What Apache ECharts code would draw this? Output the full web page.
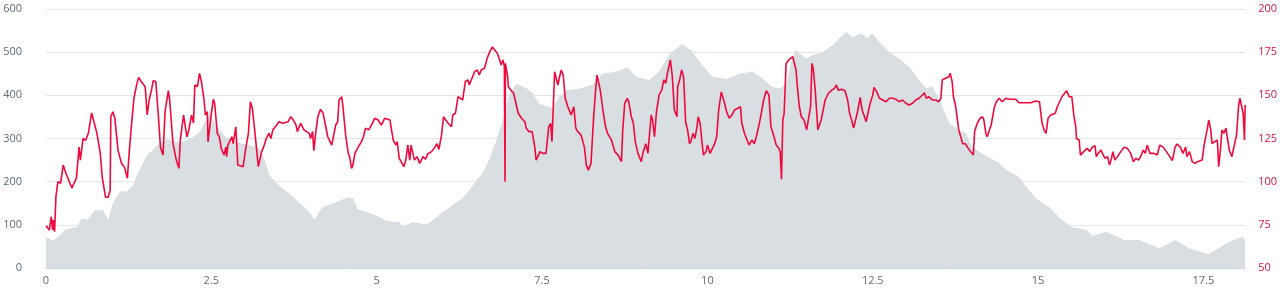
<!DOCTYPE html>
<html>
<head>
<meta charset="utf-8">
<script src="https://cdn.jsdelivr.net/npm/echarts@6/dist/echarts.min.js"></script>
<style>
html,body{margin:0;padding:0;background:#fff;}
#chart{width:1280px;height:290px;}
</style>
</head>
<body>
<div id="chart"></div>
<script>
// Elevation profile (km, metres)
const elevKm = [0.00,0.11,0.21,0.30,0.47,0.54,0.63,0.74,0.86,0.94,1.01,1.12,1.22,1.31,1.39,1.53,1.69,1.84,2.02,2.13,2.25,2.33,2.43,2.48,2.58,2.73,2.93,3.19,3.28,3.38,3.49,3.69,3.84,3.99,4.06,4.17,4.34,4.44,4.56,4.64,4.71,4.85,5.00,5.15,5.35,5.39,5.54,5.76,5.85,6.00,6.15,6.30,6.40,6.51,6.60,6.71,6.81,6.90,7.01,7.11,7.27,7.36,7.46,7.61,7.66,7.76,7.87,8.07,8.26,8.41,8.63,8.79,8.93,9.12,9.27,9.43,9.62,9.77,9.92,10.08,10.29,10.48,10.68,10.83,10.98,11.09,11.19,11.28,11.33,11.50,11.59,11.74,11.89,12.10,12.19,12.33,12.42,12.49,12.60,12.75,12.90,13.05,13.20,13.31,13.40,13.50,13.66,13.81,13.91,14.00,14.15,14.41,14.52,14.71,14.82,14.97,15.17,15.36,15.51,15.73,15.82,16.03,16.30,16.53,16.83,17.08,17.28,17.58,17.73,17.88,18.08,18.13];
const elevM = [72,63,76,90,95,115,112,134,134,111,150,178,177,190,220,262,285,298,290,296,306,316,348,354,327,302,289,281,262,215,196,170,150,128,111,140,150,156,164,162,136,130,121,109,106,95,106,101,111,130,146,162,180,204,219,254,296,339,404,427,416,404,380,373,370,396,412,416,424,450,455,465,443,435,455,496,519,502,470,443,438,450,455,439,420,416,424,485,505,485,493,500,516,547,535,543,532,545,523,500,485,466,435,416,421,392,335,319,312,281,265,243,227,211,188,161,141,111,95,88,74,84,65,65,46,65,46,32,46,60,72,66];

// Heart rate (km, bpm)
const hrKm = [0.00,0.05,0.08,0.10,0.11,0.13,0.15,0.18,0.22,0.26,0.30,0.39,0.46,0.50,0.52,0.56,0.60,0.64,0.69,0.71,0.77,0.82,0.85,0.90,0.94,0.97,0.98,1.01,1.04,1.09,1.14,1.19,1.23,1.26,1.29,1.33,1.37,1.40,1.44,1.50,1.53,1.56,1.60,1.62,1.66,1.70,1.73,1.77,1.80,1.85,1.87,1.92,1.97,2.01,2.03,2.08,2.13,2.16,2.20,2.23,2.25,2.29,2.32,2.35,2.39,2.41,2.44,2.45,2.48,2.50,2.53,2.55,2.59,2.62,2.65,2.69,2.72,2.73,2.75,2.81,2.83,2.87,2.90,2.93,2.98,3.02,3.06,3.09,3.12,3.16,3.18,3.21,3.23,3.26,3.29,3.33,3.37,3.40,3.43,3.49,3.52,3.58,3.66,3.70,3.74,3.78,3.80,3.85,3.90,3.94,3.98,4.00,4.03,4.05,4.08,4.11,4.15,4.19,4.23,4.26,4.32,4.35,4.38,4.41,4.43,4.47,4.49,4.53,4.57,4.59,4.62,4.64,4.67,4.72,4.77,4.80,4.83,4.88,4.92,4.97,5.02,5.07,5.12,5.20,5.22,5.25,5.29,5.31,5.34,5.37,5.41,5.44,5.47,5.50,5.52,5.55,5.57,5.61,5.65,5.70,5.74,5.77,5.83,5.88,5.91,5.94,5.98,6.01,6.04,6.08,6.13,6.15,6.19,6.23,6.26,6.30,6.34,6.38,6.40,6.45,6.48,6.52,6.55,6.58,6.63,6.67,6.71,6.75,6.78,6.82,6.86,6.88,6.91,6.93,6.94,6.945,6.98,6.99,7.03,7.07,7.10,7.14,7.19,7.24,7.26,7.30,7.35,7.39,7.41,7.44,7.47,7.51,7.56,7.60,7.63,7.65,7.69,7.71,7.74,7.76,7.79,7.82,7.85,7.89,7.94,7.98,8.01,8.04,8.09,8.14,8.17,8.20,8.24,8.28,8.31,8.33,8.36,8.38,8.42,8.46,8.49,8.55,8.60,8.65,8.70,8.72,8.75,8.79,8.81,8.85,8.88,8.91,8.95,9.00,9.03,9.07,9.10,9.12,9.15,9.17,9.20,9.23,9.25,9.27,9.31,9.34,9.37,9.40,9.44,9.47,9.50,9.54,9.55,9.58,9.61,9.64,9.67,9.70,9.73,9.75,9.78,9.81,9.84,9.86,9.89,9.92,9.94,9.98,10.00,10.04,10.07,10.11,10.14,10.17,10.21,10.23,10.26,10.29,10.33,10.37,10.41,10.46,10.50,10.52,10.56,10.59,10.63,10.67,10.71,10.74,10.78,10.81,10.85,10.89,10.93,10.96,11.00,11.04,11.08,11.10,11.12,11.14,11.16,11.19,11.23,11.26,11.29,11.31,11.34,11.36,11.39,11.42,11.46,11.50,11.53,11.56,11.58,11.60,11.63,11.65,11.67,11.69,11.72,11.75,11.78,11.83,11.88,11.92,11.95,11.98,12.03,12.08,12.12,12.15,12.18,12.21,12.24,12.27,12.31,12.34,12.37,12.40,12.43,12.46,12.50,12.52,12.56,12.60,12.65,12.70,12.75,12.80,12.85,12.90,12.95,13.00,13.05,13.10,13.15,13.20,13.25,13.28,13.31,13.35,13.40,13.45,13.50,13.53,13.55,13.60,13.65,13.67,13.70,13.72,13.75,13.77,13.80,13.83,13.86,13.90,13.93,13.98,14.02,14.04,14.08,14.12,14.16,14.18,14.21,14.23,14.26,14.29,14.31,14.34,14.37,14.41,14.46,14.51,14.56,14.66,14.71,14.81,14.84,14.89,14.96,15.02,15.04,15.06,15.09,15.12,15.15,15.19,15.22,15.26,15.29,15.32,15.36,15.39,15.43,15.47,15.51,15.54,15.57,15.58,15.62,15.64,15.67,15.69,15.72,15.74,15.78,15.82,15.86,15.88,15.91,15.95,15.98,16.01,16.05,16.08,16.11,16.13,16.16,16.20,16.25,16.30,16.35,16.40,16.44,16.48,16.52,16.55,16.59,16.62,16.65,16.69,16.75,16.80,16.84,16.89,16.94,16.99,17.03,17.07,17.10,17.15,17.19,17.23,17.25,17.29,17.33,17.37,17.41,17.44,17.48,17.51,17.53,17.56,17.58,17.61,17.63,17.67,17.71,17.73,17.76,17.78,17.81,17.84,17.86,17.89,17.93,17.96,18.00,18.03,18.05,18.08,18.10,18.12,18.13];
const hrBpm = [74.5,72,79.7,72,77.8,71,91.3,100,99,109.6,105,96.3,102,120,112.5,125,124,128,139.8,140.5,128,116.6,102.7,91,91,95,137.6,140.5,136.9,118,110.8,108,102,118,131.7,148.4,156,160.4,158,155,138.6,147.3,154,158.5,158,137.6,120,115.4,140.5,152.7,147.3,122,112.5,107.7,124,138.6,126,130,138.6,134,156,155,162.7,158,147.3,138.6,140.5,123,123,139.6,147.7,145.4,128,126,119.3,115.4,120,114.5,121.2,126,122,131.8,109.6,110.6,108.7,119.3,128,146.3,142.5,128,127,108.7,109.6,117.4,120,125,128,125,130,132.8,134.7,133.8,134.7,137.6,135.7,132.8,129,133.8,130,129,128,125,129,118,129,137.6,141.9,139.6,131.8,126,121.2,121.2,132.8,134.7,147.3,149.2,143.4,127,116.4,114.5,107.7,109.6,116.4,120,123.2,126,131,130,132.8,136.7,135.7,132.8,136.7,135.7,135.7,124.1,121.2,123.2,113.5,111.6,108.7,112.5,121.2,112.5,121.2,121.2,112.5,114.5,110.6,114.5,113,116,117.4,120,122,118.7,127,137.6,138.6,133.8,131.8,138.6,139.6,149.2,150.2,147.3,158,158.9,156,160.8,163.7,164.7,161.8,164.7,165.7,171.5,175.3,178,176.3,174.7,170.5,167.6,170.5,166.6,100,168.5,160.8,155,153,151.2,152,139.6,136.7,134.7,131,129,129,120,112.5,111.6,117.4,116.4,116.4,131.8,133.8,123.2,163.7,163.7,156,159.9,164.7,161.8,148.3,143.4,138.6,143.4,131,129,127,120,109.6,106.7,110.6,137.6,153,161.8,162.7,153,141.5,131.8,128,124.1,117.4,115.4,111.6,130,145.4,148.3,146.3,137.6,133.8,123.2,116.4,111.6,117.4,122,116.4,116.4,138.6,135.7,126,140.5,145.4,150.2,153,158.9,157,163.7,170.5,160.8,141.5,137.6,155,158.9,164.7,160.8,134.7,130,122,123.2,128,125,131,137.6,133.8,122,115.4,117.4,121.2,116.4,115.4,122,126,141.5,152,153,145.4,140.5,136.7,138.6,141.5,142.5,143.4,133.8,128,127,121.2,124.1,122,126,132.8,138.6,147.3,152.7,150.2,131.8,127,121.2,119.3,117.4,101.4,135.7,139.6,168.5,170.5,170.5,172.4,172.4,164.7,155,143.4,137.6,135.7,130,130,143.4,168.5,165.7,153,141.5,130,129,135.7,141.5,147.3,151.2,153,154,156,153,153.5,152.7,147.3,139.6,135.7,131,135.7,140.5,148.8,141.5,140.5,134.7,134.7,145.4,150.2,154.6,152,148.3,147.3,146.3,148.3,148.3,147.7,146.3,147.3,145.4,144.4,145.4,147.3,148.3,150.2,151.5,148.3,149.2,147.3,147.3,146.3,148.3,158.9,159.9,160.8,162.7,158,149.2,144.4,144.4,130,129,122,122,120,117.4,115.4,129,133.8,136.7,137.6,135.7,128,126,127,132.8,132.8,143.4,146.3,148.3,146.3,148.3,147.7,147.7,145.7,145.7,145,145.7,146.7,146.3,147.3,133.8,130,128,136.7,138.6,139.6,139.6,143.4,142.5,149.2,150.2,152.7,149.2,149.2,138.6,131.8,125,124.1,115.4,114.5,117.4,116.4,119.3,117.4,120,120.8,114.5,116.4,118.3,117.4,113.5,114.5,109.6,113.5,117.4,112.5,114.5,117.4,120,119.3,116.4,111.6,113.5,112.5,114.5,118.3,116.4,121.2,116.4,116.4,115.4,121.2,120,117.4,114.5,112.2,120,121.8,120,116.4,120,114.5,117.4,111.6,110.6,111.6,110.6,112.5,121.2,122,131,135.7,130,122,123.2,124.1,108.7,120,130,128,131,126,118.3,114.5,120,127,143.4,148.3,147.7,139.6,124.1,144.4];

// Axis ticks
const elevTicks = [0, 100, 200, 300, 400, 500, 600];
const hrTicks = [50, 75, 100, 125, 150, 175, 200];
const kmTicks = [0, 2.5, 5, 7.5, 10, 12.5, 15, 17.5];

const elevData = elevKm.map((k, i) => [k, elevM[i]]);
const hrData = hrKm.map((k, i) => [k, hrBpm[i]]);

const chart = echarts.init(document.getElementById('chart'), null, {renderer: 'canvas'});
chart.setOption({
  animation: false,
  grid: {left: 46, right: 34, top: 9, bottom: 22, containLabel: false},
  xAxis: {
    type: 'value',
    min: 0,
    max: elevKm[elevKm.length - 1],
    interval: kmTicks[1] - kmTicks[0],
    axisLine: {show: true, lineStyle: {color: '#ccd6eb', width: 1}},
    axisTick: {show: false},
    splitLine: {show: false},
    axisLabel: {
      showMaxLabel: false,
      color: '#5f6b7a',
      fontSize: 11,
      fontFamily: 'Open Sans, Lato, sans-serif',
      margin: 7
    }
  },
  yAxis: [
    {
      type: 'value',
      min: elevTicks[0],
      max: elevTicks[elevTicks.length - 1],
      interval: elevTicks[1] - elevTicks[0],
      axisLine: {show: false},
      axisTick: {show: false},
      splitLine: {show: true, lineStyle: {color: '#e6e6e6', width: 1}},
      axisLabel: {color: '#5f6b7a', fontSize: 11, fontFamily: 'Open Sans, Lato, sans-serif', margin: 24}
    },
    {
      type: 'value',
      min: hrTicks[0],
      max: hrTicks[hrTicks.length - 1],
      interval: hrTicks[1] - hrTicks[0],
      position: 'right',
      axisLine: {show: false},
      axisTick: {show: false},
      splitLine: {show: false},
      axisLabel: {color: '#d9143d', fontSize: 11, fontFamily: 'Open Sans, Lato, sans-serif', margin: 13}
    }
  ],
  series: [
    {
      type: 'line',
      yAxisIndex: 0,
      data: elevData,
      showSymbol: false,
      symbol: 'none',
      lineStyle: {width: 0, color: '#d9dee3'},
      areaStyle: {color: '#d9dee3', opacity: 1},
      z: 1
    },
    {
      type: 'line',
      yAxisIndex: 1,
      data: hrData,
      showSymbol: false,
      symbol: 'none',
      lineStyle: {width: 1.6, color: '#f0093c'},
      z: 3
    }
  ]
});
</script>
</body>
</html>
